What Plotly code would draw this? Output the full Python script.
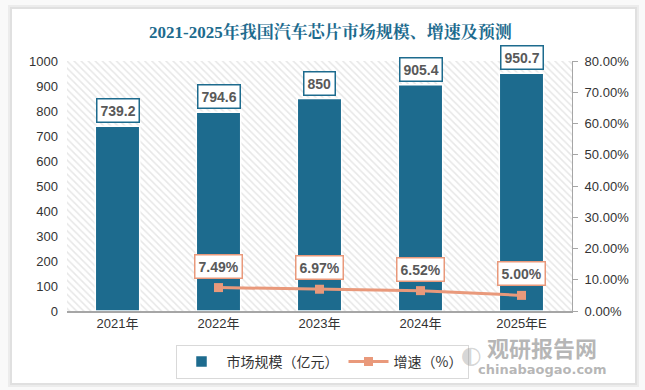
import plotly.graph_objects as go

categories = ["2021年", "2022年", "2023年", "2024年", "2025年E"]
market_size = [739.2, 794.6, 850, 905.4, 950.7]
growth_cats = ["2022年", "2023年", "2024年", "2025年E"]
growth_rate = [7.49, 6.97, 6.52, 5.00]
left_ticks = list(range(0, 1001, 100))
right_ticks = list(range(0, 81, 10))

BAR = "#1D6B8E"
LINE = "#E9997B"
TXT = "#595959"

# plot area geometry in pixels
L, R, T, B = 67, 572, 61, 311
PW, PH = R - L, B - T


def px(x):
    return (x - L) / PW


def py(y):
    return (B - y) / PH


fig = go.Figure()

# hatched plot background (one full-width bar per category)
fig.add_trace(go.Bar(
    x=categories, y=[left_ticks[-1]] * len(categories), width=1.0,
    marker=dict(color="white", line=dict(width=0),
                pattern=dict(shape="\\", fgcolor="#cfcfcf", bgcolor="white", size=5, solidity=0.3)),
    showlegend=False, hoverinfo="skip", xaxis="x", yaxis="y"))

fig.add_trace(go.Bar(
    x=categories, y=market_size, name="市场规模（亿元）", width=0.44,
    marker=dict(color=BAR, line=dict(color="white", width=1.5)),
    xaxis="x", yaxis="y"))

fig.add_trace(go.Scatter(
    x=growth_cats, y=growth_rate, name="增速（%）", mode="lines+markers",
    line=dict(color=LINE, width=3), marker=dict(symbol="square", size=9, color=LINE),
    xaxis="x", yaxis="y2"))

annotations = []
for c, v in zip(categories, market_size):
    annotations.append(dict(
        x=c, y=v, xref="x", yref="y", text=f"<b>{v:g}</b>", showarrow=False,
        yanchor="bottom", yshift=3, font=dict(size=14, color=TXT, family="Liberation Sans, Arial"),
        bgcolor="white", bordercolor=BAR, borderwidth=1.5, borderpad=3))
for c, v in zip(growth_cats, growth_rate):
    annotations.append(dict(
        x=c, y=v, xref="x", yref="y2", text=f"<b>{v:.2f}%</b>", showarrow=False,
        yanchor="bottom", yshift=9, font=dict(size=14, color=TXT, family="Liberation Sans, Arial"),
        bgcolor="white", bordercolor=LINE, borderwidth=1.5, borderpad=3))

annotations.append(dict(
    x=px(330), y=py(32), xref="paper", yref="paper", showarrow=False,
    text="<b>2021-2025年我国汽车芯片市场规模、增速及预测</b>",
    font=dict(size=17, color="#1D6B8E", family="Liberation Serif, Noto Serif CJK SC, Noto Sans CJK SC"),
    xanchor="center", yanchor="middle"))

# watermark
WM = "rgba(110,110,110,0.5)"
annotations.append(dict(x=px(542), y=py(347), xref="paper", yref="paper", showarrow=False,
    text="<b>观研报告网</b>", font=dict(size=22, color=WM, family="Noto Sans CJK SC"),
    xanchor="center", yanchor="middle"))
annotations.append(dict(x=px(542), y=py(369), xref="paper", yref="paper", showarrow=False,
    text="<b>chinabaogao.com</b>", font=dict(size=13, color=WM, family="DejaVu Sans"),
    xanchor="center", yanchor="middle"))
annotations.append(dict(x=px(471), y=py(355), xref="paper", yref="paper", showarrow=False,
    text="◐", font=dict(size=24, color="rgba(150,150,150,0.4)", family="DejaVu Sans"),
    xanchor="center", yanchor="middle"))

shapes = [
    dict(type="rect", xref="paper", yref="paper", x0=px(8), x1=px(639), y0=py(387), y1=py(5),
         fillcolor="#ececec", line=dict(width=0), layer="below"),
    dict(type="rect", xref="paper", yref="paper", x0=px(10), x1=px(637), y0=py(385), y1=py(7),
         fillcolor="#e0e0e0", line=dict(width=0), layer="below"),
    dict(type="rect", xref="paper", yref="paper", x0=px(12), x1=px(635), y0=py(383), y1=py(9),
         fillcolor="white", line=dict(width=0), layer="below"),
]

fig.update_layout(
    width=645, height=390,
    margin=dict(l=L, r=645 - R, t=T, b=390 - B, autoexpand=False),
    paper_bgcolor="#f9f9f9", plot_bgcolor="rgba(0,0,0,0)",
    font=dict(family="Liberation Sans, Noto Sans CJK SC", size=12, color="#333333"),
    showlegend=True, barmode="overlay",
    legend=dict(orientation="h", x=px(322), xanchor="center", y=py(362), yanchor="middle",
                bordercolor="#d9d9d9", borderwidth=1, bgcolor="white",
                font=dict(size=14, color="#333333", family="Noto Sans CJK SC"),
                itemwidth=40, tracegroupgap=0),
    xaxis=dict(type="category", categoryarray=categories, range=[-0.5, 4.5],
               showline=True, linecolor="#a6a6a6", linewidth=1.5, ticks="",
               tickfont=dict(size=13, color="#333333", family="Liberation Sans, Noto Sans CJK SC"),
               showgrid=False, zeroline=False),
    yaxis=dict(range=[0, 1000], tickvals=left_ticks, showgrid=False, zeroline=False,
               showline=False, ticks="", tickfont=dict(size=13, color="#333333"), ticklabelstandoff=8),
    yaxis2=dict(range=[0, 80], tickvals=right_ticks, ticktext=[f"{t:.2f}%" for t in right_ticks],
                overlaying="y", side="right", showgrid=False, zeroline=False,
                showline=True, linecolor="#a6a6a6", linewidth=1, ticks="outside", ticklen=5,
                tickcolor="#a6a6a6", tickfont=dict(size=13, color="#333333"), ticklabelstandoff=4),
    annotations=annotations, shapes=shapes,
)

fig.write_html("out.html", config={"displayModeBar": False},
               post_script="document.body.style.margin='0';document.body.style.overflow='hidden';")
